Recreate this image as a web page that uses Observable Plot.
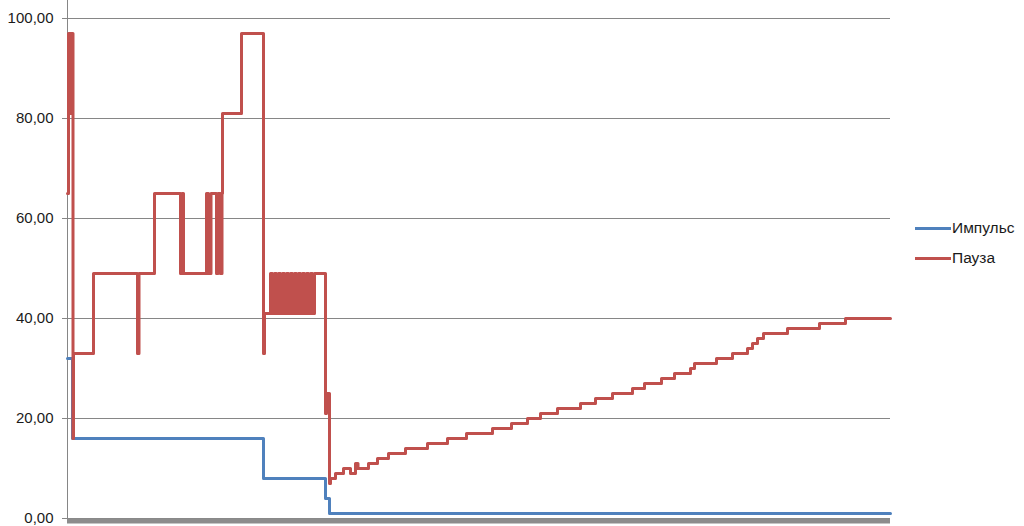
<!DOCTYPE html>
<html>
<head>
<meta charset="utf-8">
<script src="https://cdn.jsdelivr.net/npm/d3@7"></script>
<script src="https://cdn.jsdelivr.net/npm/@observablehq/plot@0.6"></script>
<style>
  html, body { margin: 0; padding: 0; background: #fff; }
  #wrap { position: relative; width: 1024px; height: 526px; overflow: hidden; }
  #legend { position: absolute; left: 915px; top: 213px; font-family: "Liberation Sans", Arial, sans-serif; font-size: 15.5px; color: #1a1a1a; }
  .item { display: flex; align-items: center; height: 30px; }
  .sw { width: 36px; height: 3px; margin-right: 1px; }
</style>
</head>
<body>
<div id="wrap"><div id="legend"></div></div>
<script>
// Series names and colours
const seriesNames = ["Импульс", "Пауза"];
const seriesColors = ["#4F81BD", "#C0504D"];

// Импульс: sample index where a new value starts, and that value
const pulseX = [0, 5, 196, 258, 262, 823];
const pulseY = [32, 16, 8, 4, 1, 1];

// Пауза: sample index where a new value starts, and that value
const pauseX = [0, 1, 2, 3, 4, 5, 5.5, 6, 26, 70, 71.5, 87, 113, 114.5, 116,
  139, 141, 143.5, 149, 150.5, 153, 154.5, 155, 174, 196, 197,
  203, 205, 207, 209, 211, 213, 215, 217, 219, 221, 223, 225, 227, 229, 231, 233, 235, 237, 239, 241, 243, 245, 247,
  258, 259, 262, 263, 268, 276, 283, 288, 290.5, 301, 310, 321, 338, 360, 380, 399, 425, 444, 460, 473, 490, 513, 528,
  545, 565, 577, 594, 607, 623, 627, 649, 665, 680, 685, 690, 696, 720, 752, 778, 823];
const pauseY = [65, 97, 81, 97, 81, 97, 16, 33, 49, 33, 49, 65, 49, 65, 49,
  65, 49, 65, 49, 65, 49, 65, 81, 97, 33, 41,
  49, 41, 49, 41, 49, 41, 49, 41, 49, 41, 49, 41, 49, 41, 49, 41, 49, 41, 49, 41, 49, 41, 49,
  21, 25, 7, 8, 9, 10, 9, 11, 10, 11, 12, 13, 14, 15, 16, 17, 18, 19, 20, 21, 22, 23, 24,
  25, 26, 27, 28, 29, 30, 31, 32, 33, 34, 35, 36, 37, 38, 39, 40, 40];

const yTicks = [0, 20, 40, 60, 80, 100];

const pulse = pulseX.map((x, i) => ({x, y: pulseY[i]}));
const pause = pauseX.map((x, i) => ({x, y: pauseY[i]}));

const fmt = d => d.toFixed(2).replace(".", ",");

const chart = Plot.plot({
  width: 1024,
  height: 526,
  marginLeft: 67,
  marginRight: 134,
  marginTop: 0,
  marginBottom: 8,
  style: {fontFamily: "'Liberation Sans', Arial, sans-serif", fontSize: "15px", color: "#1a1a1a", background: "#fff"},
  x: {domain: [0, 823], axis: null},
  y: {domain: [0, 103.6], axis: null},
  marks: [
    Plot.gridY(yTicks, {stroke: "#868686", strokeOpacity: 1, strokeWidth: 1}),
    Plot.axisY(yTicks, {label: null, tickFormat: fmt, tickSize: 5, tickPadding: 9, stroke: "#868686", fontSize: 15, fill: "#1a1a1a"}),
    Plot.ruleX([0], {stroke: "#868686", strokeWidth: 1}),
    Plot.line(pulse, {x: "x", y: "y", curve: "step-after", stroke: seriesColors[0], strokeWidth: 3}),
    Plot.line(pause, {x: "x", y: "y", curve: "step-after", stroke: seriesColors[1], strokeWidth: 3}),
    Plot.ruleY([0], {stroke: "#8c8c8c", strokeWidth: 5, dy: 2.5})
  ]
});
document.getElementById("wrap").prepend(chart);

const legend = document.getElementById("legend");
seriesNames.forEach((n, i) => {
  const row = document.createElement("div");
  row.className = "item";
  const sw = document.createElement("div");
  sw.className = "sw";
  sw.style.background = seriesColors[i];
  const t = document.createElement("span");
  t.textContent = n;
  row.appendChild(sw);
  row.appendChild(t);
  legend.appendChild(row);
});
</script>
</body>
</html>
